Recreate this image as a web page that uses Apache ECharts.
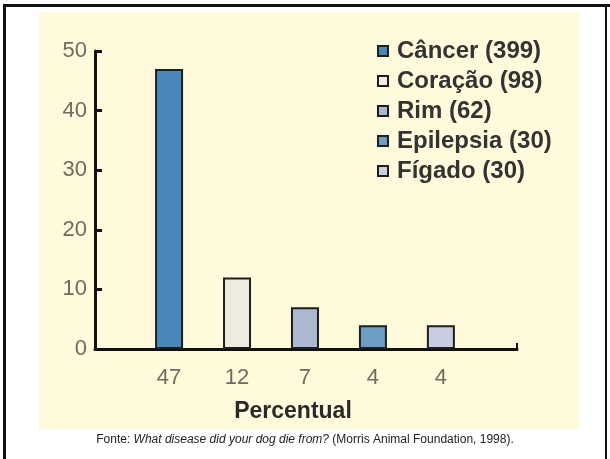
<!DOCTYPE html>
<html>
<head>
<meta charset="utf-8">
<script src="https://cdn.jsdelivr.net/npm/echarts@6/dist/echarts.min.js"></script>
<style>
  html, body { margin: 0; padding: 0; background: #ffffff; }
  #chart { width: 610px; height: 459px; }
</style>
</head>
<body>
<div id="chart"></div>
<script>
// Causes of death in dogs, percentage of cases
const categories = ['Câncer (399)', 'Coração (98)', 'Rim (62)', 'Epilepsia (30)', 'Fígado (30)'];
const percentages = [47, 12, 7, 4, 4];
const tickLabels = ['47', '12', '7', '4', '4'];
const barColors = ['#4a87bb', '#eeebe0', '#aab9cf', '#6d9dc3', '#c9cde0'];
const yTicks = [0, 10, 20, 30, 40, 50];

const FONT = '"Liberation Sans", Arial, sans-serif';
const xMin = -1.09, xMax = 5.12;

const series = categories.map((name, i) => ({
  name: name,
  type: 'bar',
  barWidth: 28,
  barGap: '-100%',
  data: [[i, percentages[i]]],
  itemStyle: { color: barColors[i], borderColor: '#1e1e1e', borderWidth: 2 }
}));

const chart = echarts.init(document.getElementById('chart'), null, { renderer: 'canvas' });
chart.setOption({
  backgroundColor: '#ffffff',
  animation: false,
  graphic: [
    // cream panel behind the plot
    { type: 'rect', z: -10, shape: { x: 39, y: 12, width: 540, height: 417 }, style: { fill: '#fffadb' } },
    // page frame
    { type: 'rect', z: -5, shape: { x: 3, y: 4, width: 3, height: 460 }, style: { fill: '#111' } },
    { type: 'rect', z: -5, shape: { x: 3, y: 4, width: 607, height: 3 }, style: { fill: '#111' } },
    { type: 'rect', z: -5, shape: { x: 605, y: 4, width: 2, height: 460 }, style: { fill: '#111' } }
  ],
  title: {
    text: '{n|Fonte: }{i|What disease did your dog die from?}{n| (Morris Animal Foundation, 1998).}',
    left: 'center',
    top: 429,
    textStyle: {
      fontWeight: 'normal',
      rich: {
        n: { fontFamily: FONT, fontSize: 12, color: '#222', fontWeight: 'normal' },
        i: { fontFamily: FONT, fontSize: 12, color: '#222', fontWeight: 'normal', fontStyle: 'italic' }
      }
    }
  },
  legend: {
    orient: 'vertical',
    left: 372,
    top: 34,
    itemWidth: 10,
    itemHeight: 10,
    itemGap: 6,
    icon: 'rect',
    textStyle: { fontFamily: FONT, fontSize: 24, fontWeight: 'bold', color: '#333', lineHeight: 24, padding: [0, 0, 0, 4] },
    data: categories
  },
  grid: { left: 95, right: 93, top: 51, bottom: 110, containLabel: false },
  xAxis: {
    type: 'value',
    min: xMin,
    max: xMax,
    splitLine: { show: false },
    axisLine: { show: true, onZero: false, lineStyle: { color: '#111', width: 3 } },
    axisTick: { show: true, inside: true, length: 6, lineStyle: { color: '#111', width: 2 }, customValues: [xMax] },
    axisLabel: {
      customValues: [0, 1, 2, 3, 4],
      formatter: v => tickLabels[Math.round(v)],
      fontFamily: FONT, fontSize: 22, color: '#6e6b60', margin: 18
    },
    name: 'Percentual',
    nameLocation: 'middle',
    nameGap: 51,
    nameTextStyle: { fontFamily: FONT, fontSize: 23, fontWeight: 'bold', color: '#2a2a2a', padding: [0, 26, 0, 0] }
  },
  yAxis: {
    type: 'value',
    min: 0,
    max: 50,
    interval: 10,
    splitLine: { show: false },
    axisLine: { show: true, onZero: false, lineStyle: { color: '#111', width: 3 } },
    axisTick: { show: true, inside: true, length: 7, lineStyle: { color: '#111', width: 3 } },
    axisLabel: {
      fontFamily: FONT, fontSize: 22, color: '#6e6b60', margin: 8,
      formatter: v => (yTicks.indexOf(v) >= 0 ? String(v) : '')
    }
  },
  series: series
});
</script>
</body>
</html>
